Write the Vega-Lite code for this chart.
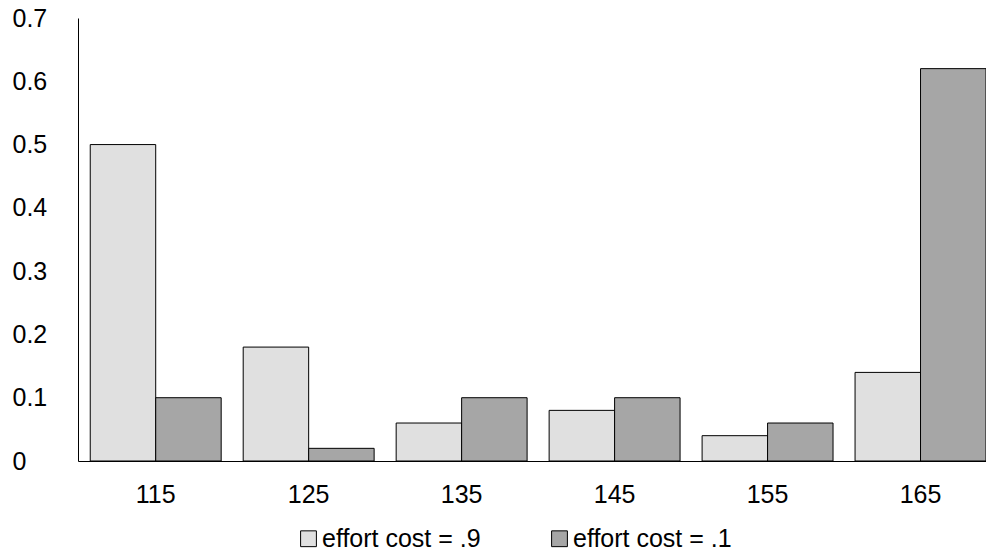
{
  "$schema": "https://vega.github.io/schema/vega-lite/v6.json",
  "width": 908,
  "height": 443,
  "autosize": {"type": "none"},
  "padding": {"left": 78, "top": 18, "right": 0, "bottom": 91},
  "background": "white",
  "config": {
    "view": {"stroke": null},
    "font": "Liberation Sans"
  },
  "data": {
    "values": [
      {"bin": "115", "cost": "effort cost = .9", "share": 0.5},
      {"bin": "115", "cost": "effort cost = .1", "share": 0.1},
      {"bin": "125", "cost": "effort cost = .9", "share": 0.18},
      {"bin": "125", "cost": "effort cost = .1", "share": 0.02},
      {"bin": "135", "cost": "effort cost = .9", "share": 0.06},
      {"bin": "135", "cost": "effort cost = .1", "share": 0.1},
      {"bin": "145", "cost": "effort cost = .9", "share": 0.08},
      {"bin": "145", "cost": "effort cost = .1", "share": 0.1},
      {"bin": "155", "cost": "effort cost = .9", "share": 0.04},
      {"bin": "155", "cost": "effort cost = .1", "share": 0.06},
      {"bin": "165", "cost": "effort cost = .9", "share": 0.14},
      {"bin": "165", "cost": "effort cost = .1", "share": 0.62}
    ]
  },
  "mark": {"type": "bar", "stroke": "black", "strokeWidth": 1},
  "encoding": {
    "x": {
      "field": "bin",
      "type": "nominal",
      "scale": {"paddingInner": 0.144, "paddingOuter": 0.04, "align": 1},
      "axis": {
        "title": null,
        "labelAngle": 0,
        "ticks": false,
        "domainColor": "black",
        "domainWidth": 1,
        "labelFontSize": 25,
        "labelColor": "black",
        "labelPadding": 21
      }
    },
    "xOffset": {
      "field": "cost",
      "type": "nominal",
      "sort": ["effort cost = .9", "effort cost = .1"],
      "scale": {"paddingInner": 0, "paddingOuter": 0}
    },
    "y": {
      "field": "share",
      "type": "quantitative",
      "scale": {"domain": [0, 0.7], "nice": false},
      "axis": {
        "title": null,
        "values": [0, 0.1, 0.2, 0.3, 0.4, 0.5, 0.6, 0.7],
        "labelExpr": "datum.value == 0 ? '0' : format(datum.value, '.1f')",
        "grid": false,
        "ticks": false,
        "domainColor": "black",
        "domainWidth": 1,
        "labelFontSize": 25,
        "labelColor": "black",
        "labelAlign": "left",
        "labelPadding": 66
      }
    },
    "color": {
      "field": "cost",
      "type": "nominal",
      "sort": ["effort cost = .9", "effort cost = .1"],
      "scale": {"domain": ["effort cost = .9", "effort cost = .1"], "range": ["#e0e0e0", "#a6a6a6"]},
      "legend": {
        "title": null,
        "orient": "none",
        "direction": "horizontal",
        "legendX": 218,
        "legendY": 508,
        "symbolType": "square",
        "symbolSize": 250,
        "symbolStrokeColor": "black",
        "symbolStrokeWidth": 1,
        "labelFontSize": 25,
        "labelColor": "black",
        "labelOffset": 1,
        "columnPadding": 66,
        "labelLimit": 400
      }
    }
  }
}
